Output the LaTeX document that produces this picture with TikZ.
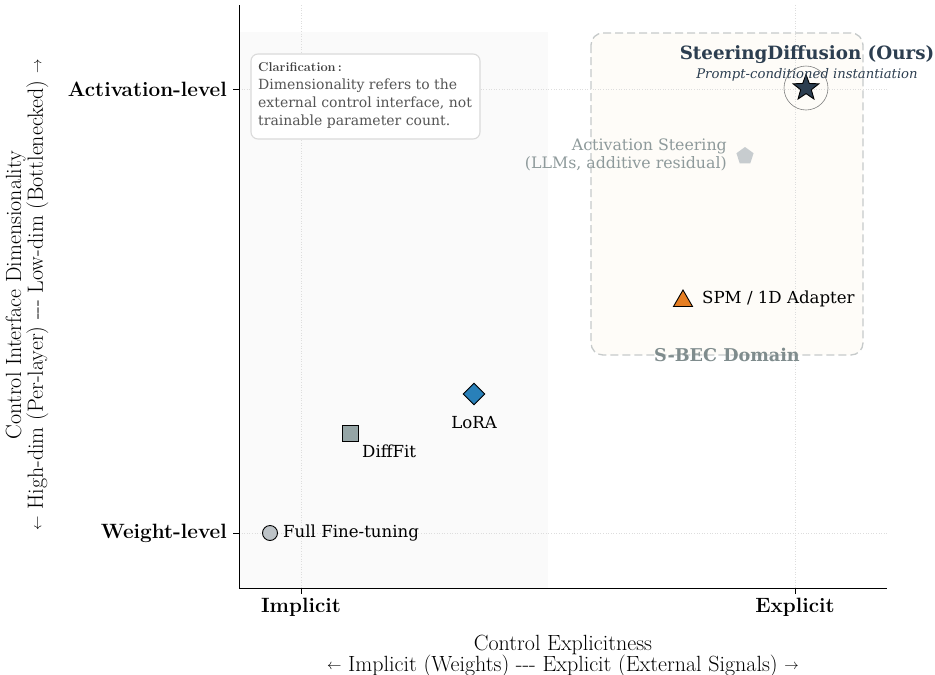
\documentclass[tikz,border=0pt]{standalone}
\usepackage{fontspec}
\newfontfamily\dvserif{DejaVu Serif}
\usetikzlibrary{shapes.geometric}

\definecolor{navy}{HTML}{2C3E50}
\definecolor{orangeM}{HTML}{E67E22}
\definecolor{blueM}{HTML}{2980B9}
\definecolor{grayM}{HTML}{95A5A6}
\definecolor{silverM}{HTML}{BDC3C7}
\definecolor{domainTxt}{HTML}{7F8C8D}
\definecolor{domainFill}{HTML}{FEFCF8}
\definecolor{domainEdge}{HTML}{C6CACA}
\definecolor{shadeL}{HTML}{FAFAFA}
\definecolor{gridC}{HTML}{DDDDDD}
\definecolor{noteEdge}{HTML}{DADADA}
\definecolor{noteTxt}{HTML}{555555}
\definecolor{actTxt}{HTML}{8E9A9B}

% small text arrows for the axis captions
\newcommand{\smallL}{\raisebox{1.6pt}{\fontsize{15.5}{15}\selectfont$\leftarrow$}}
\newcommand{\smallR}{\raisebox{1.6pt}{\fontsize{15.5}{15}\selectfont$\rightarrow$}}

\tikzset{
  pt/.style={draw=black, line width=0.9pt, inner sep=0pt},
  lbl/.style={font=\dvserif\fontsize{16.6}{19}\selectfont, inner sep=0pt},
  ticklbl/.style={font=\bfseries\fontsize{20.7}{24}\selectfont, inner sep=0pt},
  axlbl/.style={font=\fontsize{22}{20.5}\selectfont, align=center, inner sep=0pt},
  gridline/.style={gridC, line width=0.6pt, dotted},
}

\begin{document}
\begin{tikzpicture}[x=1pt, y=-1pt]
\useasboundingbox (0,0) rectangle (935,675);

% shaded implicit half and the S-BEC domain
\fill[shadeL] (239,32) rectangle (548,588);
\draw[domainEdge, dash pattern=on 8pt off 4pt, line width=1.3pt, fill=domainFill, rounded corners=12pt]
  (591,33) rectangle (863,355);

% grid
\draw[gridline] (301,5) -- (301,588);
\draw[gridline] (795,5) -- (795,588);
\draw[gridline] (239,89) -- (887,89);
\draw[gridline] (239,533) -- (887,533);

% axes
\draw[line width=1pt] (239,5) -- (239,588) -- (887,588);
\draw[line width=0.8pt] (301,588) -- (301,594);
\draw[line width=0.8pt] (795,588) -- (795,594);
\draw[line width=0.8pt] (239,89) -- (233,89);
\draw[line width=0.8pt] (239,533) -- (233,533);

\node[ticklbl] (tImp) at (301,607) {Implicit};
\node[ticklbl] (tExp) at (795,607) {Explicit};
\node[ticklbl, anchor=east] (tAct) at (227,89) {Activation-level};
\node[ticklbl, anchor=east] (tWgt) at (227,533) {Weight-level};

\node[axlbl, anchor=base] (xlab1) at (563,650) {Control Explicitness};
\node[axlbl, anchor=base] (xlab2) at (563,671.5) {\smallL{} Implicit (Weights) -{}-{}- Explicit (External Signals) \smallR};
\node[axlbl, rotate=90] (ylab) at (27,295) {Control Interface Dimensionality\\ \smallL{} High-dim (Per-layer) -{}-{}- Low-dim (Bottlenecked) \smallR};

% note box
\node[draw=noteEdge, line width=1.1pt, fill=white, rounded corners=7pt, minimum width=229pt, minimum height=85pt] (note) at (365.5,96.5) {};
\node[anchor=west, inner sep=0pt, font=\bfseries\fontsize{12.8}{15}\selectfont, text=noteTxt!75!black] (noteHead) at (258,67) {Clarification\,:};
\node[anchor=north west, inner sep=0pt, align=left, text=noteTxt, font=\dvserif\fontsize{14}{18}\selectfont] (noteBody) at (258,79)
  {Dimensionality refers to the\\ external control interface, not\\ trainable parameter count.};

% methods
\node[pt, circle, fill=silverM, minimum size=15pt] (fft) at (270,533) {};
\node[lbl, anchor=west] (fftL) at (283,533) {Full Fine-tuning};

\node[pt, rectangle, fill=grayM, minimum size=16pt] (diff) at (350,433) {};
\node[lbl, anchor=west] (diffL) at (362,451) {DiffFit};

\node[pt, diamond, fill=blueM, minimum size=22pt] (lora) at (474,394) {};
\node[lbl] (loraL) at (474,423) {LoRA};

\node[pt, regular polygon, regular polygon sides=3, fill=orangeM, minimum size=22pt] (spm) at (683,301) {};
\node[lbl, anchor=west] (spmL) at (702,299) {SPM / 1D Adapter};

\node[regular polygon, regular polygon sides=5, fill=silverM!85!white, minimum size=18pt, inner sep=0pt] (act) at (745,156) {};
\node[anchor=east, align=right, inner sep=0pt, text=actTxt, font=\dvserif\fontsize{15.8}{18.5}\selectfont] (actL) at (727,155) {Activation Steering\\ (LLMs, additive residual)};

\draw[gray, line width=0.6pt] (806,88) circle (22pt);
\node[pt, star, star points=5, star point ratio=2.4, fill=navy, minimum size=27pt] (ours) at (806,88) {};
\node[font=\dvserif\bfseries\fontsize{18.3}{21}\selectfont, text=navy, inner sep=0pt] (oursL) at (807,55) {SteeringDiffusion (Ours)};
\node[font=\dvserif\itshape\fontsize{13.2}{15}\selectfont, text=navy, inner sep=0pt] (oursS) at (807,75) {Prompt-conditioned instantiation};

\node[font=\dvserif\bfseries\fontsize{17.6}{20}\selectfont, text=domainTxt, inner sep=0pt] (domL) at (727,355) {S-BEC Domain};
\end{tikzpicture}
\end{document}
